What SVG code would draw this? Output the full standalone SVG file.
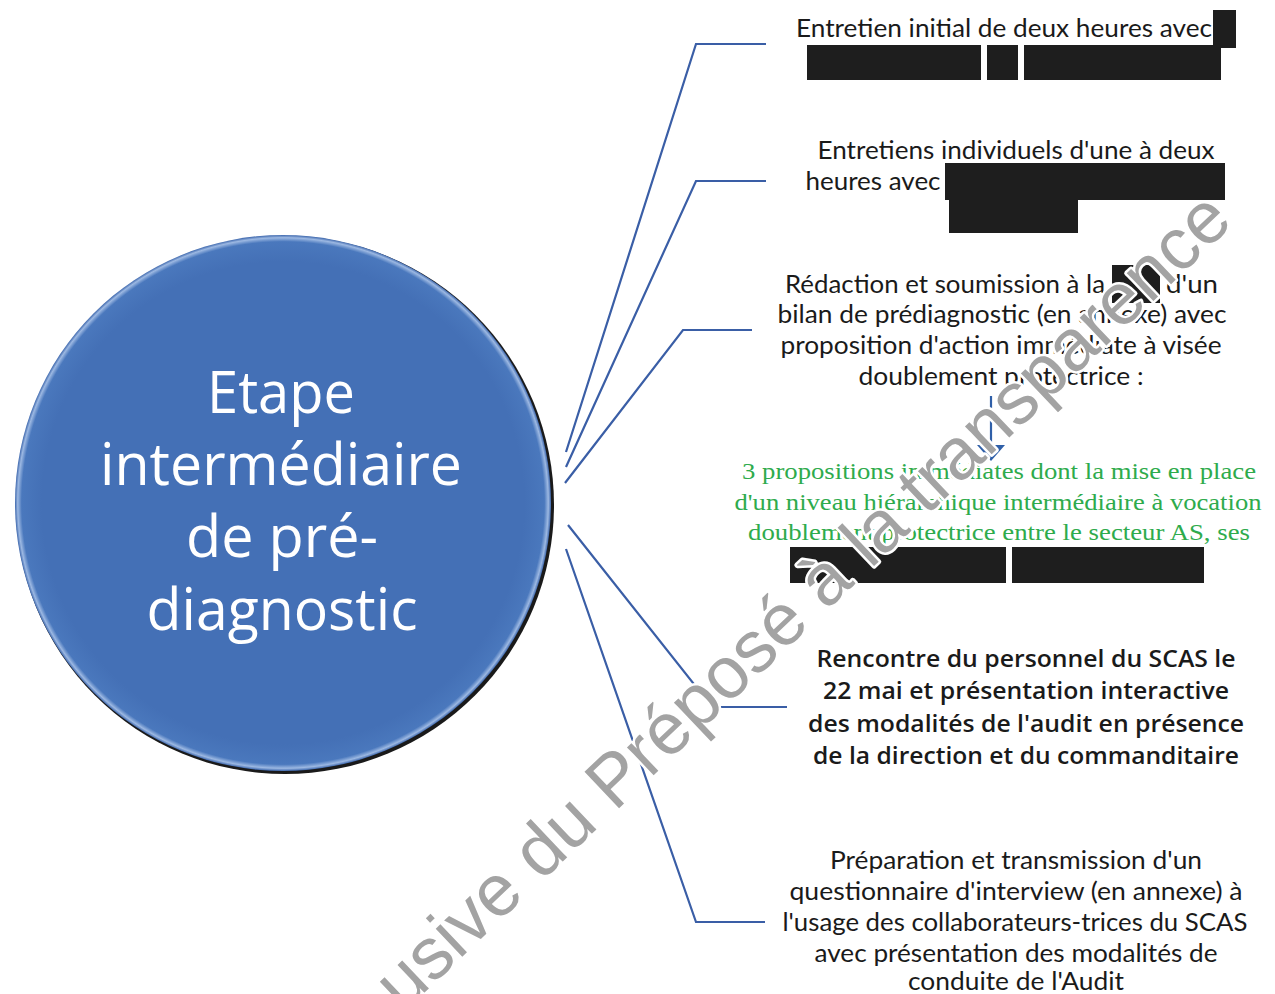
<svg xmlns="http://www.w3.org/2000/svg" width="1275" height="994" viewBox="0 0 1275 994">
<defs>
<style>
.t{font-family:Lato,"Open Sans","Liberation Sans",sans-serif;font-size:25px;fill:#1a1a1a;text-anchor:middle}
.b{font-weight:600;font-family:"Open Sans",Lato,sans-serif;font-size:24px}
.g{font-family:"Liberation Serif","DejaVu Serif",serif;font-size:23px;fill:#2eab4c;text-anchor:middle}
.c{font-family:"Open Sans",Lato,sans-serif;font-size:58px;fill:#ffffff;text-anchor:middle}
.red{fill:#1e1e1e}
.con{fill:none;stroke:#3a5ea6;stroke-width:2.2;stroke-linejoin:miter}
.wm{font-family:"Liberation Sans",Arial,sans-serif;font-size:73px;fill:#a3a3a3;stroke:#ffffff;stroke-width:5;paint-order:stroke;stroke-linejoin:round}
</style>
<radialGradient id="rim" cx="0.5" cy="0.5" r="0.5">
<stop offset="0.9" stop-color="#4470b6"/>
<stop offset="0.975" stop-color="#4a78bd"/>
<stop offset="0.99" stop-color="#9cb8e2"/>
<stop offset="1" stop-color="#3d67ad"/>
</radialGradient>
</defs>
<rect width="1275" height="994" fill="#ffffff"/>

<g id="center-node">
<circle cx="285" cy="505" r="269" fill="#1a1a1a"/>
<circle cx="283" cy="503" r="268" fill="url(#rim)"/>
<text class="c" x="281" y="413" textLength="148" lengthAdjust="spacingAndGlyphs">Etape</text>
<text class="c" x="281" y="485" textLength="362" lengthAdjust="spacingAndGlyphs">intermédiaire</text>
<text class="c" x="282" y="557" textLength="192" lengthAdjust="spacingAndGlyphs">de pré-</text>
<text class="c" x="282" y="630" textLength="271" lengthAdjust="spacingAndGlyphs">diagnostic</text>
</g>

<g id="connectors">
<polyline class="con" points="566,452 696,44 766,44"/>
<polyline class="con" points="566,467 696,181 766,181"/>
<polyline class="con" points="565,483 683,330 752,330"/>
<polyline class="con" points="568,525 712,707 787,707"/>
<polyline class="con" points="566,549 696,922 765,922"/>
</g>

<g id="node-1">
<text class="t" x="1004" y="37" textLength="416" lengthAdjust="spacingAndGlyphs">Entretien initial de deux heures avec</text>
<rect class="red" x="1213" y="10" width="23" height="38"/>
<rect class="red" x="807" y="45" width="174" height="35"/>
<rect class="red" x="987" y="45" width="31" height="35"/>
<rect class="red" x="1024" y="45" width="197" height="35"/>
</g>

<g id="node-2">
<text class="t" x="1016" y="159" textLength="397" lengthAdjust="spacingAndGlyphs">Entretiens individuels d'une à deux</text>
<text class="t" x="873" y="190" textLength="135" lengthAdjust="spacingAndGlyphs">heures avec</text>
<rect class="red" x="945" y="163" width="280" height="37"/>
<rect class="red" x="949" y="199" width="129" height="34"/>
</g>

<g id="node-3">
<text class="t" x="945" y="293" textLength="320" lengthAdjust="spacingAndGlyphs">Rédaction et soumission à la</text>
<rect class="red" x="1112" y="265" width="48" height="38"/>
<text class="t" x="1192" y="293" textLength="52" lengthAdjust="spacingAndGlyphs">d'un</text>
<text class="t" x="1002" y="323" textLength="449" lengthAdjust="spacingAndGlyphs">bilan de prédiagnostic (en annexe) avec</text>
<text class="t" x="1001" y="354" textLength="441" lengthAdjust="spacingAndGlyphs">proposition d'action immédiate à visée</text>
<text class="t" x="1001" y="385" textLength="285" lengthAdjust="spacingAndGlyphs">doublement protectrice :</text>
<line x1="991" y1="396" x2="991" y2="447" stroke="#2f5fa8" stroke-width="2.2"/>
<polygon points="977,445 1005,445 991,461" fill="#2f5fa8"/>
<text class="g" x="999" y="479" textLength="514" lengthAdjust="spacingAndGlyphs">3 propositions immédiates dont la mise en place</text>
<text class="g" x="998" y="510" textLength="527" lengthAdjust="spacingAndGlyphs">d'un niveau hiérarchique intermédiaire à vocation</text>
<text class="g" x="999" y="540" textLength="502" lengthAdjust="spacingAndGlyphs">doublement protectrice entre le secteur AS, ses</text>
<rect class="red" x="790" y="547" width="216" height="36"/>
<rect class="red" x="1012" y="547" width="192" height="36"/>
</g>

<g id="node-4">
<text class="t b" x="1026" y="667" textLength="419" lengthAdjust="spacingAndGlyphs">Rencontre du personnel du SCAS le</text>
<text class="t b" x="1026" y="699" textLength="406" lengthAdjust="spacingAndGlyphs">22 mai et présentation interactive</text>
<text class="t b" x="1026" y="732" textLength="436" lengthAdjust="spacingAndGlyphs">des modalités de l'audit en présence</text>
<text class="t b" x="1026" y="764" textLength="426" lengthAdjust="spacingAndGlyphs">de la direction et du commanditaire</text>
</g>

<g id="node-5">
<text class="t" x="1016" y="869" textLength="372" lengthAdjust="spacingAndGlyphs">Préparation et transmission d'un</text>
<text class="t" x="1016" y="900" textLength="453" lengthAdjust="spacingAndGlyphs">questionnaire d'interview (en annexe) à</text>
<text class="t" x="1015" y="931" textLength="465" lengthAdjust="spacingAndGlyphs">l'usage des collaborateurs-trices du SCAS</text>
<text class="t" x="1016" y="962" textLength="403" lengthAdjust="spacingAndGlyphs">avec présentation des modalités de</text>
<text class="t" x="1016" y="990" textLength="216" lengthAdjust="spacingAndGlyphs">conduite de l'Audit</text>
</g>

<g id="watermark">
<text class="wm" x="403" y="1013" transform="rotate(-43.5 403 1013)" textLength="1147" lengthAdjust="spacingAndGlyphs">usive du Préposé à la transparence</text>
</g>
</svg>
